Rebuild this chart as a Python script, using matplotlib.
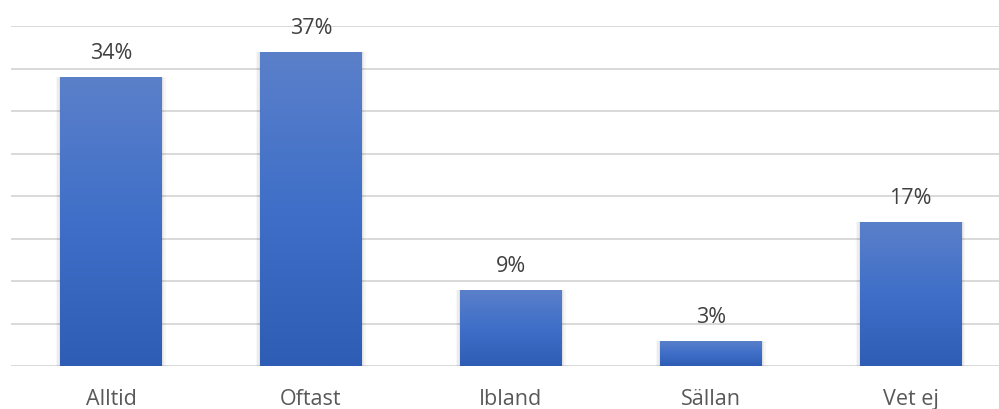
import numpy as np
import matplotlib
matplotlib.use("Agg")
import matplotlib.pyplot as plt
from matplotlib.colors import LinearSegmentedColormap
from matplotlib.patches import Rectangle

# Svarsfördelning (%)
categories = ["Alltid", "Oftast", "Ibland", "Sällan", "Vet ej"]
values = [34, 37, 9, 3, 17]

W, H = 999, 410
fig = plt.figure(figsize=(W / 100, H / 100), dpi=100)
ax = fig.add_axes([11 / W, (H - 367) / H, 999.5 / W, (367 - 27) / H])

ax.set_xlim(-0.5, len(categories) - 0.5)
ax.set_ylim(0, 40)

# stödlinjer var 5:e procent
for y in np.arange(0, 41, 5):
    ax.axhline(y, color="#D9D9D9", linewidth=1.4, zorder=0)

grad = LinearSegmentedColormap.from_list("bar", ["#2E5DB5", "#3F6FC8", "#5B80CA"])
bar_w = 0.506
x = np.arange(len(categories))

for xi, v in zip(x, values):
    x0 = xi - bar_w / 2
    # mjuk skugga
    for k, a in enumerate([0.05, 0.04, 0.03]):
        d = 0.012 * (k + 1)
        ax.add_patch(Rectangle((x0 - d * 0.6, -0.1), bar_w + d * 1.2, v + d * 2.5,
                               facecolor="black", alpha=a, edgecolor="none", zorder=1))
    rect = Rectangle((x0, 0), bar_w, v, facecolor="none", edgecolor="none", zorder=2)
    ax.add_patch(rect)
    img = ax.imshow(np.linspace(0, 1, 256).reshape(-1, 1), cmap=grad, aspect="auto",
                    extent=(x0, x0 + bar_w, 0, v), origin="lower", zorder=2)
    img.set_clip_path(rect)
    ax.text(xi, v + 2.85, f"{v}%", ha="center", va="center",
            fontsize=15.5, color="#404040", family="Open Sans")

ax.set_xlim(-0.5, len(categories) - 0.5)
ax.set_ylim(0, 40)
ax.set_xticks(x)
ax.set_xticklabels(categories, fontsize=15.5, color="#595959", family="Open Sans")
ax.tick_params(axis="x", length=0, pad=15.5)
ax.set_yticks([])
for s in ax.spines.values():
    s.set_visible(False)

fig.savefig("out.png", dpi=100)
